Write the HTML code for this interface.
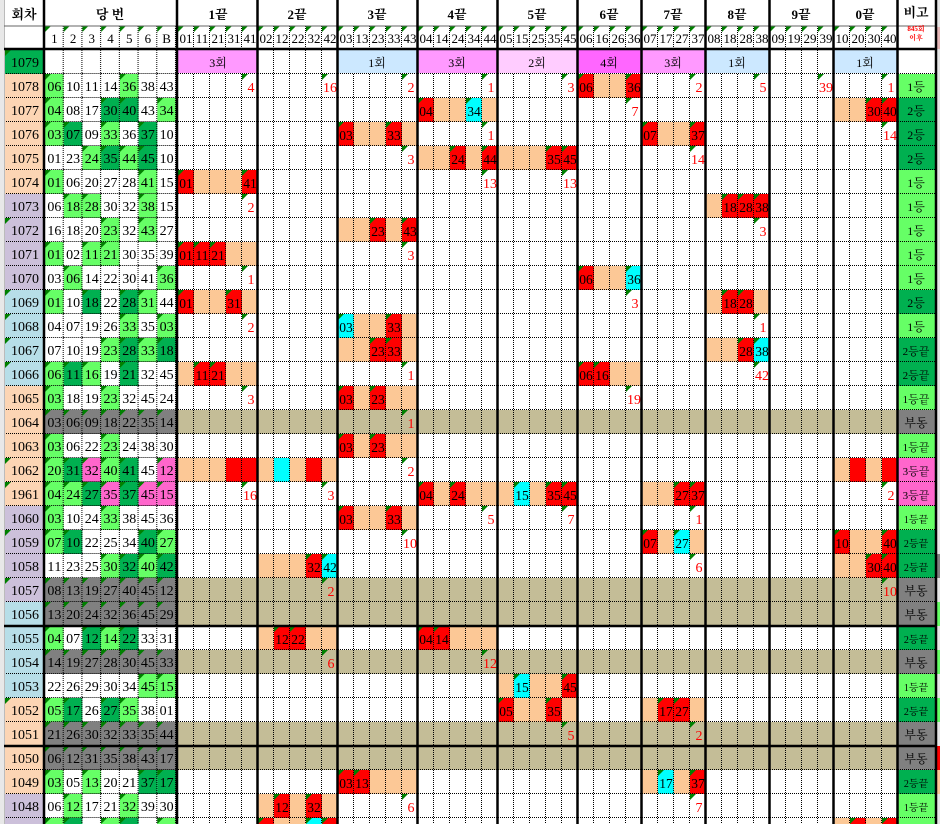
<!DOCTYPE html>
<html><head><meta charset="utf-8"><style>
html,body{margin:0;padding:0;background:#fff;}
svg{display:block}
</style></head><body>
<svg width="940" height="824" viewBox="0 0 940 824" xmlns="http://www.w3.org/2000/svg">
<style>
text{font-family:"Liberation Serif","Noto Serif CJK SC","Noto Sans CJK KR",serif;}
.n{font-size:14px;fill:#000}
.e{font-size:13.5px;fill:#000;text-anchor:middle}
.s{font-size:14px;fill:#f00;text-anchor:middle}
.h{font-size:13px;fill:#000;text-anchor:middle}
.b{font-size:13px;font-weight:bold;fill:#000;text-anchor:middle}
.g{font-size:12px;fill:#000;text-anchor:middle}
.lb{font-size:14px;fill:#000;text-anchor:middle}
</style>
<defs>
<pattern id="grid" x="178" y="2" width="16" height="24" patternUnits="userSpaceOnUse">
<line x1="15.5" y1="0" x2="15.5" y2="24" stroke="#000" stroke-dasharray="1 1"/>
<line x1="0" y1="23.5" x2="16" y2="23.5" stroke="#000" stroke-dasharray="1 1"/>
</pattern>
<pattern id="grid2" x="45" y="2" width="18.714" height="24" patternUnits="userSpaceOnUse">
<line x1="18.2" y1="0" x2="18.2" y2="24" stroke="#000" stroke-dasharray="1 1"/>
<line x1="0" y1="23.5" x2="18.714" y2="23.5" stroke="#000" stroke-dasharray="1 1"/>
</pattern>
<pattern id="hgrid" x="0" y="2" width="16" height="24" patternUnits="userSpaceOnUse">
<line x1="0" y1="23.5" x2="16" y2="23.5" stroke="#000" stroke-dasharray="1 1"/>
</pattern>
<pattern id="tri" x="178" y="26" width="16" height="24" patternUnits="userSpaceOnUse">
<polygon points="0,0 6,0 0,6" fill="#008000"/>
</pattern>
<pattern id="tri2" x="45" y="26" width="18.714" height="24" patternUnits="userSpaceOnUse">
<polygon points="0,0 6,0 0,6" fill="#008000"/>
</pattern>
<g id="R"><rect width="16" height="24" fill="#f00"/><polygon points="0,0 6,0 0,6" fill="#008000"/></g>
<rect id="r" width="16" height="24" fill="#f00"/>
<rect id="P" width="16" height="24" fill="#fcc896"/>
<g id="C"><rect width="16" height="24" fill="#0ff"/><polygon points="0,0 6,0 0,6" fill="#008000"/></g>
<rect id="c" width="16" height="24" fill="#0ff"/>
<polygon id="t" points="0,0 6,0 0,6" fill="#008000"/>
<g id="L"><rect width="18.7" height="24" fill="#66ff66"/><polygon points="0,0 6,0 0,6" fill="#008000"/></g>
<g id="D"><rect width="18.7" height="24" fill="#00b050"/><polygon points="0,0 6,0 0,6" fill="#008000"/></g>
<g id="K"><rect width="18.7" height="24" fill="#ff66cc"/><polygon points="0,0 6,0 0,6" fill="#008000"/></g>
<g id="GR"><rect x="45" width="131" height="24" fill="#808080"/>
<polygon points="45,0 51,0 45,6" fill="#008000"/><polygon points="63.7,0 69.7,0 63.7,6" fill="#008000"/><polygon points="82.4,0 88.4,0 82.4,6" fill="#008000"/><polygon points="101.1,0 107.1,0 101.1,6" fill="#008000"/><polygon points="119.9,0 125.9,0 119.9,6" fill="#008000"/><polygon points="138.6,0 144.6,0 138.6,6" fill="#008000"/><polygon points="157.3,0 163.3,0 157.3,6" fill="#008000"/></g>
<rect id="TAN" x="178" width="719" height="24" fill="#c4bd97"/>
</defs>

<rect x="0" y="0" width="4" height="824" fill="#e8e8e8"/>
<rect x="937" y="0" width="3" height="824" fill="#e6e6e6"/>
<rect x="937" y="27" width="3" height="22" fill="#e6b8b8"/>
<rect x="937" y="554" width="3" height="24" fill="#808080"/>
<rect x="937" y="602" width="3" height="24" fill="#66ff66"/>
<rect x="937" y="650" width="3" height="24" fill="#66ff66"/>
<rect x="937" y="698" width="3" height="24" fill="#66ff66"/>
<rect x="937" y="746" width="3" height="24" fill="#f00"/>
<rect x="937" y="770" width="3" height="24" fill="#fcc896"/>

<rect x="5" y="50" width="38" height="24" fill="#00b050"/>
<rect x="5" y="74" width="38" height="120" fill="#fcd5b4"/>
<rect x="5" y="194" width="38" height="96" fill="#ccc0da"/>
<rect x="5" y="290" width="38" height="96" fill="#b7dee8"/>
<rect x="5" y="386" width="38" height="120" fill="#fcd5b4"/>
<rect x="5" y="506" width="38" height="96" fill="#ccc0da"/>
<rect x="5" y="602" width="38" height="96" fill="#b7dee8"/>
<rect x="5" y="698" width="38" height="96" fill="#fcd5b4"/>
<rect x="5" y="794" width="38" height="30" fill="#ccc0da"/>
<polygon points="5,50 11,50 5,56" fill="#008000"/>
<polygon points="5,218 11,218 5,224" fill="#008000"/>
<polygon points="5,290 11,290 5,296" fill="#008000"/>
<polygon points="5,314 11,314 5,320" fill="#008000"/>
<polygon points="5,338 11,338 5,344" fill="#008000"/>
<polygon points="5,362 11,362 5,368" fill="#008000"/>
<polygon points="5,458 11,458 5,464" fill="#008000"/>
<polygon points="5,482 11,482 5,488" fill="#008000"/>
<polygon points="5,530 11,530 5,536" fill="#008000"/>
<polygon points="5,578 11,578 5,584" fill="#008000"/>
<polygon points="5,698 11,698 5,704" fill="#008000"/>

<rect x="898" y="74" width="37" height="24" fill="#66ff66"/>
<rect x="898" y="98" width="37" height="72" fill="#00b050"/>
<rect x="898" y="170" width="37" height="120" fill="#66ff66"/>
<rect x="898" y="290" width="37" height="24" fill="#00b050"/>
<rect x="898" y="314" width="37" height="24" fill="#66ff66"/>
<rect x="898" y="338" width="37" height="48" fill="#00b050"/>
<rect x="898" y="386" width="37" height="24" fill="#66ff66"/>
<rect x="898" y="410" width="37" height="24" fill="#808080"/>
<rect x="898" y="434" width="37" height="24" fill="#66ff66"/>
<rect x="898" y="458" width="37" height="48" fill="#ff66cc"/>
<rect x="898" y="506" width="37" height="24" fill="#66ff66"/>
<rect x="898" y="530" width="37" height="48" fill="#00b050"/>
<rect x="898" y="578" width="37" height="48" fill="#808080"/>
<rect x="898" y="626" width="37" height="24" fill="#00b050"/>
<rect x="898" y="650" width="37" height="24" fill="#808080"/>
<rect x="898" y="674" width="37" height="24" fill="#66ff66"/>
<rect x="898" y="698" width="37" height="24" fill="#00b050"/>
<rect x="898" y="722" width="37" height="48" fill="#808080"/>
<rect x="898" y="770" width="37" height="24" fill="#00b050"/>
<rect x="898" y="794" width="37" height="30" fill="#66ff66"/>

<use href="#TAN" y="410"/><use href="#TAN" y="578"/><use href="#TAN" y="602"/><use href="#TAN" y="650"/><use href="#TAN" y="722"/><use href="#TAN" y="746"/>

<g transform="translate(0,74)"><use href="#L" x="45"/><use href="#L" x="119.9"/></g>
<g transform="translate(0,98)"><use href="#L" x="45"/><use href="#D" x="101.1"/><use href="#D" x="119.9"/><use href="#L" x="157.3"/></g>
<g transform="translate(0,122)"><use href="#L" x="45"/><use href="#D" x="63.7"/><use href="#L" x="101.1"/><use href="#D" x="138.6"/></g>
<g transform="translate(0,146)"><use href="#L" x="82.4"/><use href="#D" x="101.1"/><use href="#L" x="119.9"/><use href="#D" x="138.6"/></g>
<g transform="translate(0,170)"><use href="#L" x="45"/><use href="#L" x="138.6"/></g>
<g transform="translate(0,194)"><use href="#L" x="63.7"/><use href="#L" x="82.4"/><use href="#L" x="138.6"/></g>
<g transform="translate(0,218)"><use href="#L" x="101.1"/><use href="#L" x="138.6"/></g>
<g transform="translate(0,242)"><use href="#L" x="45"/><use href="#L" x="82.4"/><use href="#L" x="101.1"/></g>
<g transform="translate(0,266)"><use href="#L" x="63.7"/><use href="#L" x="157.3"/></g>
<g transform="translate(0,290)"><use href="#L" x="45"/><use href="#D" x="82.4"/><use href="#D" x="119.9"/><use href="#L" x="138.6"/></g>
<g transform="translate(0,314)"><use href="#L" x="119.9"/><use href="#L" x="157.3"/></g>
<g transform="translate(0,338)"><use href="#L" x="101.1"/><use href="#D" x="119.9"/><use href="#L" x="138.6"/><use href="#D" x="157.3"/></g>
<g transform="translate(0,362)"><use href="#L" x="45"/><use href="#D" x="63.7"/><use href="#L" x="82.4"/><use href="#D" x="119.9"/></g>
<g transform="translate(0,386)"><use href="#L" x="45"/><use href="#L" x="101.1"/></g>
<use href="#GR" y="410"/>
<g transform="translate(0,434)"><use href="#L" x="45"/><use href="#L" x="101.1"/></g>
<g transform="translate(0,458)"><use href="#L" x="45"/><use href="#D" x="63.7"/><use href="#K" x="82.4"/><use href="#L" x="101.1"/><use href="#D" x="119.9"/><use href="#K" x="157.3"/></g>
<g transform="translate(0,482)"><use href="#L" x="45"/><use href="#L" x="63.7"/><use href="#D" x="82.4"/><use href="#K" x="101.1"/><use href="#D" x="119.9"/><use href="#K" x="138.6"/><use href="#K" x="157.3"/></g>
<g transform="translate(0,506)"><use href="#L" x="45"/><use href="#L" x="101.1"/></g>
<g transform="translate(0,530)"><use href="#L" x="45"/><use href="#D" x="63.7"/><use href="#D" x="138.6"/><use href="#L" x="157.3"/></g>
<g transform="translate(0,554)"><use href="#L" x="101.1"/><use href="#D" x="119.9"/><use href="#L" x="138.6"/><use href="#D" x="157.3"/></g>
<use href="#GR" y="578"/><use href="#GR" y="602"/>
<g transform="translate(0,626)"><use href="#L" x="45"/><use href="#D" x="82.4"/><use href="#L" x="101.1"/><use href="#D" x="119.9"/></g>
<use href="#GR" y="650"/>
<g transform="translate(0,674)"><use href="#L" x="138.6"/><use href="#L" x="157.3"/></g>
<g transform="translate(0,698)"><use href="#L" x="45"/><use href="#D" x="63.7"/><use href="#D" x="101.1"/><use href="#L" x="119.9"/></g>
<use href="#GR" y="722"/><use href="#GR" y="746"/>
<g transform="translate(0,770)"><use href="#L" x="45"/><use href="#L" x="82.4"/><use href="#D" x="138.6"/><use href="#D" x="157.3"/></g>
<g transform="translate(0,794)"><use href="#L" x="63.7"/><use href="#L" x="119.9"/></g>
<g transform="translate(0,818)"><use href="#L" x="45"/><use href="#D" x="63.7"/><use href="#L" x="101.1"/><use href="#D" x="119.9"/><use href="#L" x="157.3"/></g>

<g transform="translate(0,74)"><use href="#t" x="242"/><use href="#t" x="322"/><use href="#t" x="402"/><use href="#t" x="482"/><use href="#t" x="562"/><use href="#R" x="578"/><use href="#P" x="594"/><use href="#P" x="610"/><use href="#R" x="626"/><use href="#t" x="690"/><use href="#t" x="754"/><use href="#t" x="818"/><use href="#t" x="882"/>
<text class="s" x="251" y="18">4</text><text class="s" x="330" y="18">16</text><text class="s" x="411" y="18">2</text><text class="s" x="491" y="18">1</text><text class="s" x="571" y="18">3</text><text class="e" x="586" y="18">06</text><text class="e" x="634" y="18">36</text><text class="s" x="699" y="18">2</text><text class="s" x="763" y="18">5</text><text class="s" x="826" y="18">39</text><text class="s" x="891" y="18">1</text></g>

<g transform="translate(0,98)"><use href="#R" x="418"/><use href="#P" x="434"/><use href="#P" x="450"/><use href="#C" x="466"/><use href="#P" x="482"/><use href="#t" x="626"/><use href="#P" x="834"/><use href="#P" x="850"/><use href="#R" x="866"/><use href="#R" x="882"/>
<text class="e" x="426" y="18">04</text><text class="e" x="474" y="18">34</text><text class="s" x="635" y="18">7</text><text class="e" x="874" y="18">30</text><text class="e" x="890" y="18">40</text></g>

<g transform="translate(0,122)"><use href="#R" x="338"/><use href="#P" x="354"/><use href="#P" x="370"/><use href="#R" x="386"/><use href="#P" x="402"/><use href="#t" x="482"/><use href="#R" x="642"/><use href="#P" x="658"/><use href="#P" x="674"/><use href="#R" x="690"/><use href="#t" x="882"/>
<text class="e" x="346" y="18">03</text><text class="e" x="394" y="18">33</text><text class="s" x="491" y="18">1</text><text class="e" x="650" y="18">07</text><text class="e" x="698" y="18">37</text><text class="s" x="890" y="18">14</text></g>

<g transform="translate(0,146)"><use href="#t" x="402"/><use href="#P" x="418"/><use href="#P" x="434"/><use href="#R" x="450"/><use href="#P" x="466"/><use href="#R" x="482"/><use href="#P" x="498"/><use href="#P" x="514"/><use href="#P" x="530"/><use href="#R" x="546"/><use href="#R" x="562"/><use href="#t" x="690"/>
<text class="s" x="411" y="18">3</text><text class="e" x="458" y="18">24</text><text class="e" x="490" y="18">44</text><text class="e" x="554" y="18">35</text><text class="e" x="570" y="18">45</text><text class="s" x="698" y="18">14</text></g>

<g transform="translate(0,170)"><use href="#R" x="178"/><use href="#P" x="194"/><use href="#P" x="210"/><use href="#P" x="226"/><use href="#R" x="242"/><use href="#t" x="482"/><use href="#t" x="562"/>
<text class="e" x="186" y="18">01</text><text class="e" x="250" y="18">41</text><text class="s" x="490" y="18">13</text><text class="s" x="570" y="18">13</text></g>

<g transform="translate(0,194)"><use href="#t" x="242"/><use href="#P" x="706"/><use href="#R" x="722"/><use href="#R" x="738"/><use href="#R" x="754"/>
<text class="s" x="251" y="18">2</text><text class="e" x="730" y="18">18</text><text class="e" x="746" y="18">28</text><text class="e" x="762" y="18">38</text></g>

<g transform="translate(0,218)"><use href="#P" x="338"/><use href="#P" x="354"/><use href="#R" x="370"/><use href="#P" x="386"/><use href="#R" x="402"/><use href="#t" x="754"/>
<text class="e" x="378" y="18">23</text><text class="e" x="410" y="18">43</text><text class="s" x="763" y="18">3</text></g>

<g transform="translate(0,242)"><use href="#R" x="178"/><use href="#R" x="194"/><use href="#R" x="210"/><use href="#P" x="226"/><use href="#P" x="242"/><use href="#t" x="402"/>
<text class="e" x="186" y="18">01</text><text class="e" x="202" y="18">11</text><text class="e" x="218" y="18">21</text><text class="s" x="411" y="18">3</text></g>

<g transform="translate(0,266)"><use href="#t" x="242"/><use href="#R" x="578"/><use href="#P" x="594"/><use href="#P" x="610"/><use href="#C" x="626"/>
<text class="s" x="251" y="18">1</text><text class="e" x="586" y="18">06</text><text class="e" x="634" y="18">36</text></g>

<g transform="translate(0,290)"><use href="#R" x="178"/><use href="#P" x="194"/><use href="#P" x="210"/><use href="#R" x="226"/><use href="#P" x="242"/><use href="#t" x="626"/><use href="#P" x="706"/><use href="#R" x="722"/><use href="#R" x="738"/><use href="#P" x="754"/>
<text class="e" x="186" y="18">01</text><text class="e" x="234" y="18">31</text><text class="s" x="635" y="18">3</text><text class="e" x="730" y="18">18</text><text class="e" x="746" y="18">28</text></g>

<g transform="translate(0,314)"><use href="#t" x="242"/><use href="#C" x="338"/><use href="#P" x="354"/><use href="#P" x="370"/><use href="#R" x="386"/><use href="#P" x="402"/><use href="#t" x="754"/>
<text class="s" x="251" y="18">2</text><text class="e" x="346" y="18">03</text><text class="e" x="394" y="18">33</text><text class="s" x="763" y="18">1</text></g>

<g transform="translate(0,338)"><use href="#P" x="338"/><use href="#P" x="354"/><use href="#R" x="370"/><use href="#R" x="386"/><use href="#P" x="402"/><use href="#P" x="706"/><use href="#P" x="722"/><use href="#R" x="738"/><use href="#C" x="754"/>
<text class="e" x="378" y="18">23</text><text class="e" x="394" y="18">33</text><text class="e" x="746" y="18">28</text><text class="e" x="762" y="18">38</text></g>

<g transform="translate(0,362)"><use href="#P" x="178"/><use href="#R" x="194"/><use href="#R" x="210"/><use href="#P" x="226"/><use href="#P" x="242"/><use href="#t" x="402"/><use href="#R" x="578"/><use href="#R" x="594"/><use href="#P" x="610"/><use href="#P" x="626"/><use href="#t" x="754"/>
<text class="e" x="202" y="18">11</text><text class="e" x="218" y="18">21</text><text class="s" x="411" y="18">1</text><text class="e" x="586" y="18">06</text><text class="e" x="602" y="18">16</text><text class="s" x="762" y="18">42</text></g>

<g transform="translate(0,386)"><use href="#t" x="242"/><use href="#R" x="338"/><use href="#P" x="354"/><use href="#R" x="370"/><use href="#P" x="386"/><use href="#P" x="402"/><use href="#t" x="626"/>
<text class="s" x="251" y="18">3</text><text class="e" x="346" y="18">03</text><text class="e" x="378" y="18">23</text><text class="s" x="634" y="18">19</text></g>

<g transform="translate(0,410)"><use href="#t" x="402"/><text class="s" x="411" y="18">1</text></g>

<g transform="translate(0,434)"><use href="#R" x="338"/><use href="#P" x="354"/><use href="#R" x="370"/><use href="#P" x="386"/><use href="#P" x="402"/>
<text class="e" x="346" y="18">03</text><text class="e" x="378" y="18">23</text></g>

<g transform="translate(0,458)"><use href="#P" x="178"/><use href="#P" x="194"/><use href="#P" x="210"/><use href="#r" x="226"/><use href="#r" x="242"/><use href="#P" x="258"/><use href="#c" x="274"/><use href="#P" x="290"/><use href="#r" x="306"/><use href="#P" x="322"/><use href="#t" x="402"/><use href="#P" x="834"/><use href="#r" x="850"/><use href="#P" x="866"/><use href="#r" x="882"/>
<text class="s" x="411" y="18">2</text></g>

<g transform="translate(0,482)"><use href="#t" x="242"/><use href="#t" x="322"/><use href="#R" x="418"/><use href="#P" x="434"/><use href="#R" x="450"/><use href="#P" x="466"/><use href="#P" x="482"/><use href="#P" x="498"/><use href="#C" x="514"/><use href="#P" x="530"/><use href="#R" x="546"/><use href="#R" x="562"/><use href="#P" x="642"/><use href="#P" x="658"/><use href="#R" x="674"/><use href="#R" x="690"/><use href="#t" x="882"/>
<text class="s" x="250" y="18">16</text><text class="s" x="331" y="18">3</text><text class="e" x="426" y="18">04</text><text class="e" x="458" y="18">24</text><text class="e" x="522" y="18">15</text><text class="e" x="554" y="18">35</text><text class="e" x="570" y="18">45</text><text class="e" x="682" y="18">27</text><text class="e" x="698" y="18">37</text><text class="s" x="891" y="18">2</text></g>

<g transform="translate(0,506)"><use href="#R" x="338"/><use href="#P" x="354"/><use href="#P" x="370"/><use href="#R" x="386"/><use href="#P" x="402"/><use href="#t" x="482"/><use href="#t" x="562"/><use href="#t" x="690"/>
<text class="e" x="346" y="18">03</text><text class="e" x="394" y="18">33</text><text class="s" x="491" y="18">5</text><text class="s" x="571" y="18">7</text><text class="s" x="699" y="18">1</text></g>

<g transform="translate(0,530)"><use href="#t" x="402"/><use href="#R" x="642"/><use href="#P" x="658"/><use href="#C" x="674"/><use href="#P" x="690"/><use href="#R" x="834"/><use href="#P" x="850"/><use href="#P" x="866"/><use href="#R" x="882"/>
<text class="s" x="410" y="18">10</text><text class="e" x="650" y="18">07</text><text class="e" x="682" y="18">27</text><text class="e" x="842" y="18">10</text><text class="e" x="890" y="18">40</text></g>

<g transform="translate(0,554)"><use href="#P" x="258"/><use href="#P" x="274"/><use href="#P" x="290"/><use href="#R" x="306"/><use href="#C" x="322"/><use href="#t" x="690"/><use href="#P" x="834"/><use href="#P" x="850"/><use href="#R" x="866"/><use href="#R" x="882"/>
<text class="e" x="314" y="18">32</text><text class="e" x="330" y="18">42</text><text class="s" x="699" y="18">6</text><text class="e" x="874" y="18">30</text><text class="e" x="890" y="18">40</text></g>

<g transform="translate(0,578)"><use href="#t" x="322"/><use href="#t" x="882"/>
<text class="s" x="331" y="18">2</text><text class="s" x="890" y="18">10</text></g>

<g transform="translate(0,626)"><use href="#P" x="258"/><use href="#R" x="274"/><use href="#R" x="290"/><use href="#P" x="306"/><use href="#P" x="322"/><use href="#R" x="418"/><use href="#R" x="434"/><use href="#P" x="450"/><use href="#P" x="466"/><use href="#P" x="482"/>
<text class="e" x="282" y="18">12</text><text class="e" x="298" y="18">22</text><text class="e" x="426" y="18">04</text><text class="e" x="442" y="18">14</text></g>

<g transform="translate(0,650)"><use href="#t" x="322"/><use href="#t" x="482"/>
<text class="s" x="331" y="18">6</text><text class="s" x="490" y="18">12</text></g>

<g transform="translate(0,674)"><use href="#P" x="498"/><use href="#C" x="514"/><use href="#P" x="530"/><use href="#P" x="546"/><use href="#R" x="562"/>
<text class="e" x="522" y="18">15</text><text class="e" x="570" y="18">45</text></g>

<g transform="translate(0,698)"><use href="#R" x="498"/><use href="#P" x="514"/><use href="#P" x="530"/><use href="#R" x="546"/><use href="#P" x="562"/><use href="#P" x="642"/><use href="#R" x="658"/><use href="#R" x="674"/><use href="#P" x="690"/>
<text class="e" x="506" y="18">05</text><text class="e" x="554" y="18">35</text><text class="e" x="666" y="18">17</text><text class="e" x="682" y="18">27</text></g>

<g transform="translate(0,722)"><use href="#t" x="562"/><use href="#t" x="690"/>
<text class="s" x="571" y="18">5</text><text class="s" x="699" y="18">2</text></g>

<g transform="translate(0,770)"><use href="#R" x="338"/><use href="#R" x="354"/><use href="#P" x="370"/><use href="#P" x="386"/><use href="#P" x="402"/><use href="#P" x="642"/><use href="#C" x="658"/><use href="#P" x="674"/><use href="#R" x="690"/>
<text class="e" x="346" y="18">03</text><text class="e" x="362" y="18">13</text><text class="e" x="666" y="18">17</text><text class="e" x="698" y="18">37</text></g>

<g transform="translate(0,794)"><use href="#P" x="258"/><use href="#R" x="274"/><use href="#P" x="290"/><use href="#R" x="306"/><use href="#P" x="322"/><use href="#t" x="402"/><use href="#t" x="690"/>
<text class="e" x="282" y="18">12</text><text class="e" x="314" y="18">32</text><text class="s" x="411" y="18">6</text><text class="s" x="699" y="18">7</text></g>

<g transform="translate(0,818)"><use href="#R" x="258"/><use href="#P" x="274"/><use href="#P" x="290"/><use href="#C" x="306"/><use href="#R" x="322"/><use href="#P" x="834"/><use href="#R" x="850"/><use href="#P" x="866"/><use href="#R" x="882"/></g>

<rect x="178" y="26" width="719" height="798" fill="url(#grid)"/>
<rect x="45" y="26" width="131" height="798" fill="url(#grid2)"/>
<rect x="5" y="50" width="38" height="774" fill="url(#hgrid)"/>
<rect x="898" y="50" width="37" height="774" fill="url(#hgrid)"/>
<rect x="178" y="26" width="719" height="7" fill="url(#tri)"/>
<rect x="45" y="26" width="131" height="7" fill="url(#tri2)"/>

<rect x="178" y="50" width="79" height="23" fill="#ff99ff"/>
<rect x="338" y="50" width="79" height="23" fill="#cce8ff"/>
<rect x="418" y="50" width="79" height="23" fill="#ff99ff"/>
<rect x="498" y="50" width="79" height="23" fill="#ffccff"/>
<rect x="578" y="50" width="63" height="23" fill="#ff66ff"/>
<rect x="642" y="50" width="63" height="23" fill="#ff99ff"/>
<rect x="706" y="50" width="63" height="23" fill="#cce8ff"/>
<rect x="834" y="50" width="63" height="23" fill="#cce8ff"/>
<rect x="5" y="26" width="38" height="23" fill="#fff"/>

<g stroke="#000">
<line x1="4.5" y1="0" x2="4.5" y2="824" stroke="#bbb"/>
<line x1="4" y1="26" x2="937" y2="26" stroke="#666"/>
<line x1="4" y1="49" x2="937" y2="49" stroke-width="2.5"/>
<line x1="4" y1="626" x2="937" y2="626" stroke-width="2.5"/>
<line x1="4" y1="746" x2="937" y2="746" stroke-width="2.5"/>
<line x1="44" y1="0" x2="44" y2="824" stroke-width="2.5"/>
<line x1="177" y1="0" x2="177" y2="824" stroke-width="2.5"/>
<line x1="257.5" y1="0" x2="257.5" y2="824" stroke-width="2.5"/>
<line x1="337.5" y1="0" x2="337.5" y2="824" stroke-width="2.5"/>
<line x1="417.5" y1="0" x2="417.5" y2="824" stroke-width="2.5"/>
<line x1="497.5" y1="0" x2="497.5" y2="824" stroke-width="2.5"/>
<line x1="577.5" y1="0" x2="577.5" y2="824" stroke-width="2.5"/>
<line x1="641.5" y1="0" x2="641.5" y2="824" stroke-width="2.5"/>
<line x1="705.5" y1="0" x2="705.5" y2="824" stroke-width="2.5"/>
<line x1="769.5" y1="0" x2="769.5" y2="824" stroke-width="2.5"/>
<line x1="833.5" y1="0" x2="833.5" y2="824" stroke-width="2.5"/>
<line x1="897.5" y1="0" x2="897.5" y2="824" stroke-width="2.5"/>
<line x1="936" y1="0" x2="936" y2="824" stroke-width="2.5"/>
</g>

<text class="b" x="24" y="19">회차</text>
<text class="b" x="110" y="19">당 번</text>
<text class="b" x="218" y="19">1끝</text><text class="b" x="297" y="19">2끝</text><text class="b" x="377" y="19">3끝</text><text class="b" x="457" y="19">4끝</text><text class="b" x="537" y="19">5끝</text><text class="b" x="609" y="19">6끝</text><text class="b" x="673" y="19">7끝</text><text class="b" x="737" y="19">8끝</text><text class="b" x="801" y="19">9끝</text><text class="b" x="865" y="19">0끝</text>
<text class="b" x="916" y="17">비고</text>
<text x="916" y="31" style="font-size:7px;fill:#f00;text-anchor:middle;font-weight:bold">845회</text>
<text x="916" y="40" style="font-size:7px;fill:#f00;text-anchor:middle;font-weight:bold">이후</text>

<g class="h">
<text class="h" x="54.4" y="43">1</text><text class="h" x="73.1" y="43">2</text><text class="h" x="91.8" y="43">3</text><text class="h" x="110.5" y="43">4</text><text class="h" x="129.2" y="43">5</text><text class="h" x="147.9" y="43">6</text><text class="h" x="166.6" y="43">B</text>
<text class="h" x="186" y="43">01</text><text class="h" x="202" y="43">11</text><text class="h" x="218" y="43">21</text><text class="h" x="234" y="43">31</text><text class="h" x="250" y="43">41</text>
<text class="h" x="266" y="43">02</text><text class="h" x="282" y="43">12</text><text class="h" x="298" y="43">22</text><text class="h" x="314" y="43">32</text><text class="h" x="330" y="43">42</text>
<text class="h" x="346" y="43">03</text><text class="h" x="362" y="43">13</text><text class="h" x="378" y="43">23</text><text class="h" x="394" y="43">33</text><text class="h" x="410" y="43">43</text>
<text class="h" x="426" y="43">04</text><text class="h" x="442" y="43">14</text><text class="h" x="458" y="43">24</text><text class="h" x="474" y="43">34</text><text class="h" x="490" y="43">44</text>
<text class="h" x="506" y="43">05</text><text class="h" x="522" y="43">15</text><text class="h" x="538" y="43">25</text><text class="h" x="554" y="43">35</text><text class="h" x="570" y="43">45</text>
<text class="h" x="586" y="43">06</text><text class="h" x="602" y="43">16</text><text class="h" x="618" y="43">26</text><text class="h" x="634" y="43">36</text>
<text class="h" x="650" y="43">07</text><text class="h" x="666" y="43">17</text><text class="h" x="682" y="43">27</text><text class="h" x="698" y="43">37</text>
<text class="h" x="714" y="43">08</text><text class="h" x="730" y="43">18</text><text class="h" x="746" y="43">28</text><text class="h" x="762" y="43">38</text>
<text class="h" x="778" y="43">09</text><text class="h" x="794" y="43">19</text><text class="h" x="810" y="43">29</text><text class="h" x="826" y="43">39</text>
<text class="h" x="842" y="43">10</text><text class="h" x="858" y="43">20</text><text class="h" x="874" y="43">30</text><text class="h" x="890" y="43">40</text>
</g>

<text class="g" x="218" y="67">3회</text><text class="g" x="377" y="67">1회</text><text class="g" x="457" y="67">3회</text><text class="g" x="537" y="67">2회</text><text class="g" x="609" y="67">4회</text><text class="g" x="673" y="67">3회</text><text class="g" x="737" y="67">1회</text><text class="g" x="865" y="67">1회</text>

<g class="lb">
<text class="lb" x="25" y="67">1079</text><text class="lb" x="25" y="91">1078</text><text class="lb" x="25" y="115">1077</text><text class="lb" x="25" y="139">1076</text><text class="lb" x="25" y="163">1075</text><text class="lb" x="25" y="187">1074</text><text class="lb" x="25" y="211">1073</text><text class="lb" x="25" y="235">1072</text><text class="lb" x="25" y="259">1071</text><text class="lb" x="25" y="283">1070</text><text class="lb" x="25" y="307">1069</text><text class="lb" x="25" y="331">1068</text><text class="lb" x="25" y="355">1067</text><text class="lb" x="25" y="379">1066</text><text class="lb" x="25" y="403">1065</text><text class="lb" x="25" y="427">1064</text><text class="lb" x="25" y="451">1063</text><text class="lb" x="25" y="475">1062</text><text class="lb" x="25" y="499">1961</text><text class="lb" x="25" y="523">1060</text><text class="lb" x="25" y="547">1059</text><text class="lb" x="25" y="571">1058</text><text class="lb" x="25" y="595">1057</text><text class="lb" x="25" y="619">1056</text><text class="lb" x="25" y="643">1055</text><text class="lb" x="25" y="667">1054</text><text class="lb" x="25" y="691">1053</text><text class="lb" x="25" y="715">1052</text><text class="lb" x="25" y="739">1051</text><text class="lb" x="25" y="763">1050</text><text class="lb" x="25" y="787">1049</text><text class="lb" x="25" y="811">1048</text>
</g>

<g class="n">
<text class="n" y="91" x="47.4 54.4 66.1 73.1 84.8 91.8 103.5 110.5 122.2 129.2 140.9 147.9 159.6 166.6">06101114363843</text>
<text class="n" y="115" x="47.4 54.4 66.1 73.1 84.8 91.8 103.5 110.5 122.2 129.2 140.9 147.9 159.6 166.6">04081730404334</text>
<text class="n" y="139" x="47.4 54.4 66.1 73.1 84.8 91.8 103.5 110.5 122.2 129.2 140.9 147.9 159.6 166.6">03070933363710</text>
<text class="n" y="163" x="47.4 54.4 66.1 73.1 84.8 91.8 103.5 110.5 122.2 129.2 140.9 147.9 159.6 166.6">01232435444510</text>
<text class="n" y="187" x="47.4 54.4 66.1 73.1 84.8 91.8 103.5 110.5 122.2 129.2 140.9 147.9 159.6 166.6">01062027284115</text>
<text class="n" y="211" x="47.4 54.4 66.1 73.1 84.8 91.8 103.5 110.5 122.2 129.2 140.9 147.9 159.6 166.6">06182830323815</text>
<text class="n" y="235" x="47.4 54.4 66.1 73.1 84.8 91.8 103.5 110.5 122.2 129.2 140.9 147.9 159.6 166.6">16182023324327</text>
<text class="n" y="259" x="47.4 54.4 66.1 73.1 84.8 91.8 103.5 110.5 122.2 129.2 140.9 147.9 159.6 166.6">01021121303539</text>
<text class="n" y="283" x="47.4 54.4 66.1 73.1 84.8 91.8 103.5 110.5 122.2 129.2 140.9 147.9 159.6 166.6">03061422304136</text>
<text class="n" y="307" x="47.4 54.4 66.1 73.1 84.8 91.8 103.5 110.5 122.2 129.2 140.9 147.9 159.6 166.6">01101822283144</text>
<text class="n" y="331" x="47.4 54.4 66.1 73.1 84.8 91.8 103.5 110.5 122.2 129.2 140.9 147.9 159.6 166.6">04071926333503</text>
<text class="n" y="355" x="47.4 54.4 66.1 73.1 84.8 91.8 103.5 110.5 122.2 129.2 140.9 147.9 159.6 166.6">07101923283318</text>
<text class="n" y="379" x="47.4 54.4 66.1 73.1 84.8 91.8 103.5 110.5 122.2 129.2 140.9 147.9 159.6 166.6">06111619213245</text>
<text class="n" y="403" x="47.4 54.4 66.1 73.1 84.8 91.8 103.5 110.5 122.2 129.2 140.9 147.9 159.6 166.6">03181923324524</text>
<text class="n" y="427" x="47.4 54.4 66.1 73.1 84.8 91.8 103.5 110.5 122.2 129.2 140.9 147.9 159.6 166.6">03060918223514</text>
<text class="n" y="451" x="47.4 54.4 66.1 73.1 84.8 91.8 103.5 110.5 122.2 129.2 140.9 147.9 159.6 166.6">03062223243830</text>
<text class="n" y="475" x="47.4 54.4 66.1 73.1 84.8 91.8 103.5 110.5 122.2 129.2 140.9 147.9 159.6 166.6">20313240414512</text>
<text class="n" y="499" x="47.4 54.4 66.1 73.1 84.8 91.8 103.5 110.5 122.2 129.2 140.9 147.9 159.6 166.6">04242735374515</text>
<text class="n" y="523" x="47.4 54.4 66.1 73.1 84.8 91.8 103.5 110.5 122.2 129.2 140.9 147.9 159.6 166.6">03102433384536</text>
<text class="n" y="547" x="47.4 54.4 66.1 73.1 84.8 91.8 103.5 110.5 122.2 129.2 140.9 147.9 159.6 166.6">07102225344027</text>
<text class="n" y="571" x="47.4 54.4 66.1 73.1 84.8 91.8 103.5 110.5 122.2 129.2 140.9 147.9 159.6 166.6">11232530324042</text>
<text class="n" y="595" x="47.4 54.4 66.1 73.1 84.8 91.8 103.5 110.5 122.2 129.2 140.9 147.9 159.6 166.6">08131927404512</text>
<text class="n" y="619" x="47.4 54.4 66.1 73.1 84.8 91.8 103.5 110.5 122.2 129.2 140.9 147.9 159.6 166.6">13202432364529</text>
<text class="n" y="643" x="47.4 54.4 66.1 73.1 84.8 91.8 103.5 110.5 122.2 129.2 140.9 147.9 159.6 166.6">04071214223331</text>
<text class="n" y="667" x="47.4 54.4 66.1 73.1 84.8 91.8 103.5 110.5 122.2 129.2 140.9 147.9 159.6 166.6">14192728304533</text>
<text class="n" y="691" x="47.4 54.4 66.1 73.1 84.8 91.8 103.5 110.5 122.2 129.2 140.9 147.9 159.6 166.6">22262930344515</text>
<text class="n" y="715" x="47.4 54.4 66.1 73.1 84.8 91.8 103.5 110.5 122.2 129.2 140.9 147.9 159.6 166.6">05172627353801</text>
<text class="n" y="739" x="47.4 54.4 66.1 73.1 84.8 91.8 103.5 110.5 122.2 129.2 140.9 147.9 159.6 166.6">21263032333544</text>
<text class="n" y="763" x="47.4 54.4 66.1 73.1 84.8 91.8 103.5 110.5 122.2 129.2 140.9 147.9 159.6 166.6">06123135384317</text>
<text class="n" y="787" x="47.4 54.4 66.1 73.1 84.8 91.8 103.5 110.5 122.2 129.2 140.9 147.9 159.6 166.6">03051320213717</text>
<text class="n" y="811" x="47.4 54.4 66.1 73.1 84.8 91.8 103.5 110.5 122.2 129.2 140.9 147.9 159.6 166.6">06121721323930</text>
</g>

<g class="g">
<text class="g" x="916" y="91">1등</text><text class="g" x="916" y="115">2등</text><text class="g" x="916" y="139">2등</text><text class="g" x="916" y="163">2등</text><text class="g" x="916" y="187">1등</text><text class="g" x="916" y="211">1등</text><text class="g" x="916" y="235">1등</text><text class="g" x="916" y="259">1등</text><text class="g" x="916" y="283">1등</text><text class="g" x="916" y="307">2등</text><text class="g" x="916" y="331">1등</text>
<text class="g" x="916" y="355" style="font-size:11px">2등끝</text><text class="g" x="916" y="379" style="font-size:11px">2등끝</text><text class="g" x="916" y="403" style="font-size:11px">1등끝</text><text class="g" x="916" y="427">부동</text><text class="g" x="916" y="451" style="font-size:11px">1등끝</text><text class="g" x="916" y="475" style="font-size:11px">3등끝</text><text class="g" x="916" y="499" style="font-size:11px">3등끝</text><text class="g" x="916" y="523" style="font-size:10px">1등끝</text><text class="g" x="916" y="547" style="font-size:10px">2등끝</text><text class="g" x="916" y="571" style="font-size:10px">2등끝</text><text class="g" x="916" y="595">부동</text><text class="g" x="916" y="619">부동</text><text class="g" x="916" y="643" style="font-size:10px">2등끝</text><text class="g" x="916" y="667">부동</text><text class="g" x="916" y="691" style="font-size:10px">1등끝</text><text class="g" x="916" y="715" style="font-size:10px">2등끝</text><text class="g" x="916" y="739">부동</text><text class="g" x="916" y="763">부동</text><text class="g" x="916" y="787" style="font-size:10px">2등끝</text><text class="g" x="916" y="811" style="font-size:10px">1등끝</text>
</g>
</svg>
</body></html>
